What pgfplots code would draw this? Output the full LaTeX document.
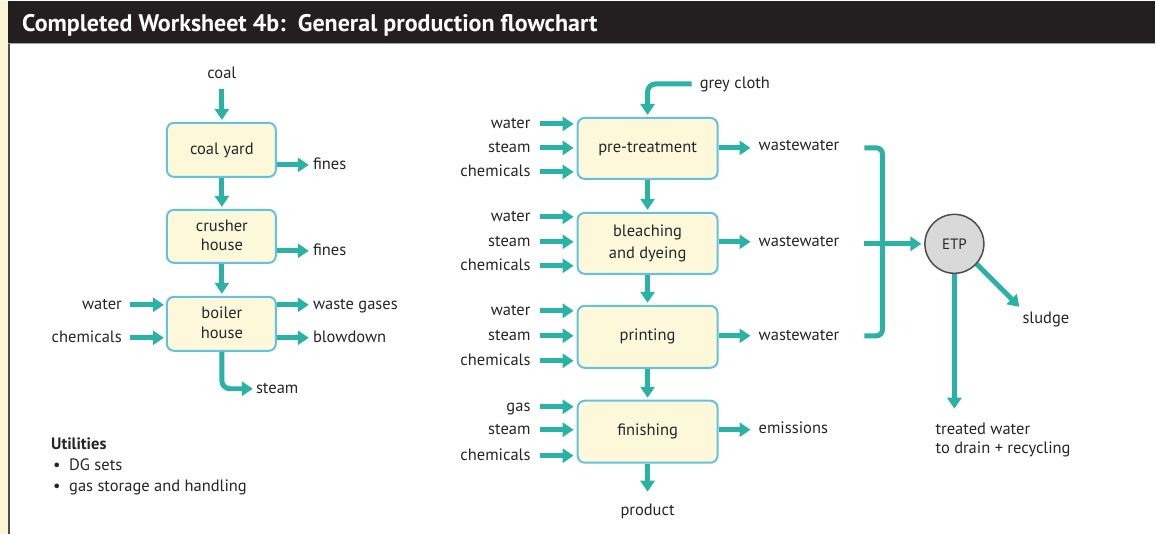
\documentclass[border=0pt]{standalone}
\usepackage{fontspec}
\setmainfont{PT Sans}
\usepackage{pgfplots}
\pgfplotsset{compat=1.18}
\usetikzlibrary{arrows.meta}
\definecolor{flowc}{HTML}{2AB3A4}
\definecolor{boxfill}{HTML}{FDF8DA}
\definecolor{boxline}{HTML}{62C2E0}
\definecolor{txt}{HTML}{262626}
\definecolor{header}{HTML}{231F20}
\definecolor{strip}{HTML}{FBF5D5}
\definecolor{etpfill}{HTML}{D9D9D9}
\definecolor{etpline}{HTML}{4D4D4D}
\tikzset{
  flow/.style={draw=flowc, line width=5pt, -{Triangle[length=11pt,width=14pt]}},
  flowline/.style={draw=flowc, line width=5pt},
  proc/.style={fill=boxfill, draw=boxline, line width=2pt, rounded corners=7pt},
  lbl/.style={inner sep=0pt, text=txt, yshift=-2pt, font=\fontsize{16.5}{18}\selectfont},
}
\newcommand{\arr}[4]{\addplot[flow] coordinates {(#1,#2) (#3,#4)};}
\newcommand{\procbox}[4]{\addplot[proc] coordinates {(#1,#2) (#3,#2) (#3,#4) (#1,#4)} -- cycle;}
\begin{document}
\begin{tikzpicture}
\begin{axis}[
  scale only axis, width=1156pt, height=533pt,
  xmin=0, xmax=1156, ymin=0, ymax=533, y dir=reverse,
  hide axis, clip=false]
% background
\addplot[fill=white, draw=none] coordinates {(0,0) (1156,0) (1156,533) (0,533)} -- cycle;
\addplot[fill=strip, draw=none] coordinates {(0,0) (8,0) (8,533) (0,533)} -- cycle;
\addplot[draw=etpline, line width=2pt] coordinates {(9,0) (9,533)};
% header
\addplot[fill=header, draw=none] coordinates {(8,0) (1156,0) (1156,42) (8,42)} -- cycle;
\addplot[draw=gray!70, line width=1.5pt] coordinates {(8,42.5) (1156,42.5)};
\node[anchor=base west, inner sep=0pt, text=white, font=\fontsize{24}{26}\selectfont\bfseries] at (axis cs:22,31) {Completed Worksheet 4b:\ \ General production flowchart};

% ---------- left column ----------
\procbox{167}{122}{276}{176}
\procbox{167}{209}{276}{262}
\procbox{167}{296}{276}{350}
\arr{222}{88}{222}{119}
\arr{222}{177}{222}{206}
\arr{222}{263}{222}{293}
\arr{277}{164}{309}{164}
\arr{277}{250}{309}{250}
\arr{130}{304}{164}{304}
\arr{130}{337}{164}{337}
\arr{277}{304}{309}{304}
\arr{277}{337}{309}{337}
\addplot[flow, rounded corners=8pt] coordinates {(222,351) (222,388) (253,388)};

\node[lbl, anchor=mid] at (axis cs:222,73) {coal};
\node[lbl, anchor=mid] at (axis cs:222,149) {coal yard};
\node[lbl, anchor=mid] at (axis cs:222,226) {crusher};
\node[lbl, anchor=mid] at (axis cs:222,245) {house};
\node[lbl, anchor=mid] at (axis cs:222,313) {boiler};
\node[lbl, anchor=mid] at (axis cs:222,333) {house};
\node[lbl, anchor=mid west] at (axis cs:313,164) {fines};
\node[lbl, anchor=mid west] at (axis cs:313,250) {fines};
\node[lbl, anchor=mid east] at (axis cs:122,304) {water};
\node[lbl, anchor=mid east] at (axis cs:122,337) {chemicals};
\node[lbl, anchor=mid west] at (axis cs:313,304) {waste gases};
\node[lbl, anchor=mid west] at (axis cs:313,337) {blowdown};
\node[lbl, anchor=mid west] at (axis cs:256,388) {steam};

\node[lbl, anchor=mid west, font=\fontsize{16.5}{18}\selectfont\bfseries] at (axis cs:51,444) {Utilities};
\node[lbl, anchor=mid] at (axis cs:57,465) {\textbullet};
\node[lbl, anchor=mid west] at (axis cs:69,465) {DG sets};
\node[lbl, anchor=mid] at (axis cs:57,486) {\textbullet};
\node[lbl, anchor=mid west] at (axis cs:69,486) {gas storage and handling};

% ---------- middle column ----------
\procbox{578}{117}{718}{178}
\procbox{578}{212}{718}{273}
\procbox{578}{305}{718}{367}
\procbox{578}{400}{718}{462}
\addplot[flow, rounded corners=8pt] coordinates {(692,83) (648,83) (648,114)};
\arr{648}{179}{648}{209}
\arr{648}{274}{648}{302}
\arr{648}{368}{648}{397}
\arr{648}{463}{648}{491}
% inputs
\arr{540}{123}{574}{123}
\arr{540}{147}{574}{147}
\arr{540}{171}{574}{171}
\arr{540}{216}{574}{216}
\arr{540}{241}{574}{241}
\arr{540}{265}{574}{265}
\arr{540}{310}{574}{310}
\arr{540}{335}{574}{335}
\arr{540}{360}{574}{360}
\arr{540}{406}{574}{406}
\arr{540}{429}{574}{429}
\arr{540}{455}{574}{455}
% outputs
\arr{719}{147}{751}{147}
\arr{719}{241}{751}{241}
\arr{719}{335}{751}{335}
\arr{719}{429}{751}{429}

\node[lbl, anchor=mid west] at (axis cs:700,83) {grey cloth};
\node[lbl, anchor=mid] at (axis cs:648,147) {pre-treatment};
\node[lbl, anchor=mid] at (axis cs:648,231) {bleaching};
\node[lbl, anchor=mid] at (axis cs:648,253) {and dyeing};
\node[lbl, anchor=mid] at (axis cs:648,335) {printing};
\node[lbl, anchor=mid] at (axis cs:648,430) {finishing};
\node[lbl, anchor=mid] at (axis cs:648,510) {product};
\node[lbl, anchor=mid east] at (axis cs:531,123) {water};
\node[lbl, anchor=mid east] at (axis cs:531,147) {steam};
\node[lbl, anchor=mid east] at (axis cs:531,171) {chemicals};
\node[lbl, anchor=mid east] at (axis cs:531,216) {water};
\node[lbl, anchor=mid east] at (axis cs:531,241) {steam};
\node[lbl, anchor=mid east] at (axis cs:531,265) {chemicals};
\node[lbl, anchor=mid east] at (axis cs:531,310) {water};
\node[lbl, anchor=mid east] at (axis cs:531,335) {steam};
\node[lbl, anchor=mid east] at (axis cs:531,360) {chemicals};
\node[lbl, anchor=mid east] at (axis cs:531,406) {gas};
\node[lbl, anchor=mid east] at (axis cs:531,429) {steam};
\node[lbl, anchor=mid east] at (axis cs:531,455) {chemicals};
\node[lbl, anchor=mid west] at (axis cs:759,145) {wastewater};
\node[lbl, anchor=mid west] at (axis cs:759,241) {wastewater};
\node[lbl, anchor=mid west] at (axis cs:759,335) {wastewater};
\node[lbl, anchor=mid west] at (axis cs:759,428) {emissions};

% ---------- ETP ----------
\addplot[flowline, rounded corners=6pt] coordinates {(865,147) (883,147) (883,335) (865,335)};
\arr{865}{243}{922}{243}
\arr{955}{273}{955}{408}
\arr{976}{262}{1020}{306}
\addplot[only marks, mark=*, mark size=29.5pt,
  mark options={fill=etpfill, draw=etpline, line width=1.5pt},
  nodes near coords={ETP},
  every node near coord/.style={anchor=center, inner sep=0pt, text=txt, font=\fontsize{15}{16}\selectfont}]
  coordinates {(955,243)};
\node[lbl, anchor=mid west] at (axis cs:1023,318) {sludge};
\node[lbl, anchor=mid west] at (axis cs:936,429) {treated water};
\node[lbl, anchor=mid west] at (axis cs:936,448) {to drain + recycling};
\end{axis}
\end{tikzpicture}
\end{document}
